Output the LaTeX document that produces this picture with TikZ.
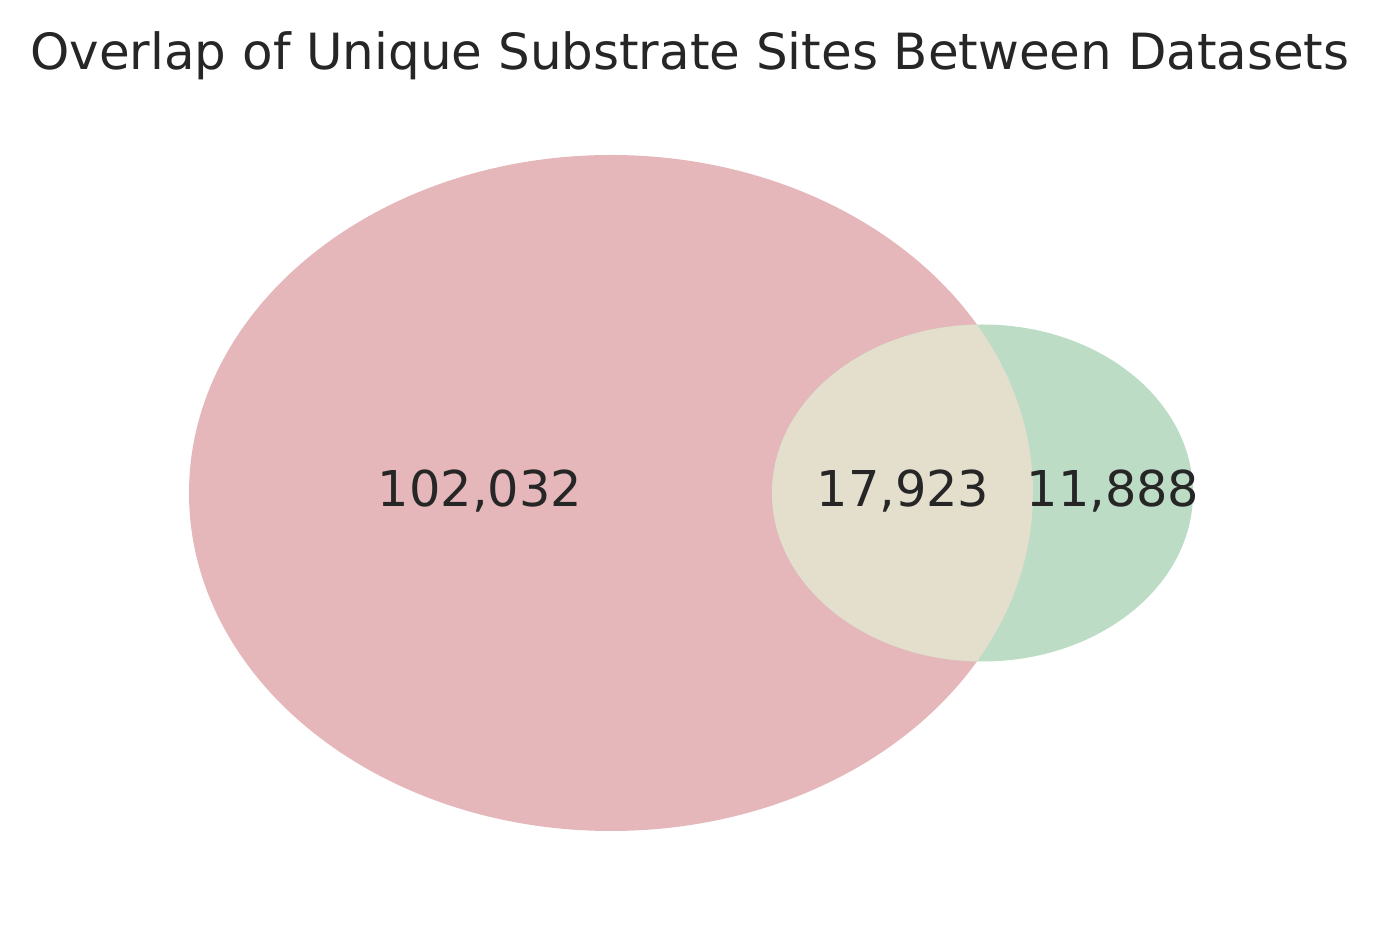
\documentclass[tikz,border=0pt]{standalone}
\usepackage{fontspec}
\setmainfont{DejaVu Sans}
\usetikzlibrary{calc}

\definecolor{setA}{RGB}{229,183,186}
\definecolor{setB}{RGB}{189,220,197}
\definecolor{setAB}{RGB}{228,222,205}
\definecolor{inktext}{RGB}{38,38,38}

\tikzset{
    count/.style={font=\fontsize{28.1}{33}\selectfont, text=inktext, anchor=base, inner sep=0pt},
    heading/.style={font=\fontsize{28.4}{34}\selectfont, text=inktext, anchor=base, inner sep=0pt}
}

\begin{document}
\begin{tikzpicture}
    \useasboundingbox (0,0) rectangle (27.64,18.5);

    % Define the centres of the two sets
    \coordinate (A) at (12.22,8.64);
    \coordinate (B) at (19.65,8.64);

    % Draw the two sets
    \fill[setA] (A) ellipse [x radius=8.44cm, y radius=6.76cm];
    \fill[setB] (B) ellipse [x radius=4.21cm, y radius=3.37cm];

    % Shared part
    \begin{scope}
        \clip (A) ellipse [x radius=8.44cm, y radius=6.76cm];
        \fill[setAB] (B) ellipse [x radius=4.21cm, y radius=3.37cm];
    \end{scope}

    % Counts
    \node[count] (onlyA) at (9.6,8.36) {102,032};
    \node[count] (both) at (18.06,8.36) {17,923};
    \node[count] (onlyB) at (22.26,8.36) {11,888};

    % Title
    \node[heading] (title) at (13.8,17.1) {Overlap of Unique Substrate Sites Between Datasets};
\end{tikzpicture}
\end{document}
